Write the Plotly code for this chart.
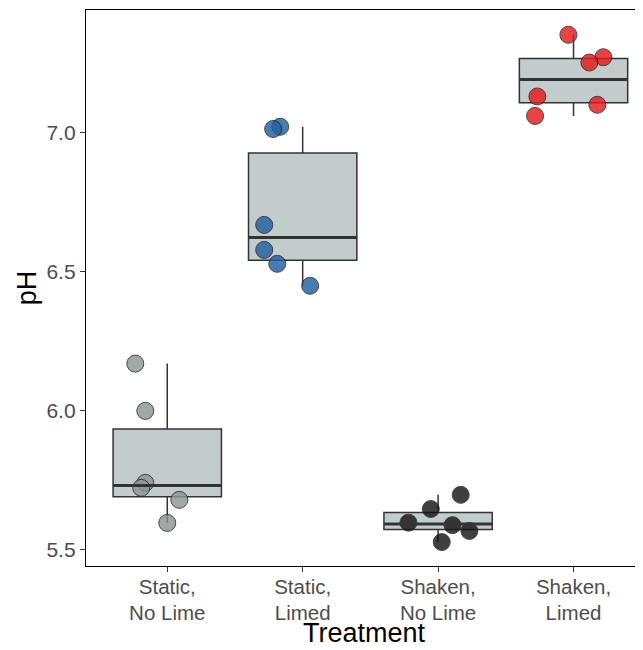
import numpy as np
import plotly.graph_objects as go

# ---- data ----
categories = ["Static,<br>No Lime", "Static,<br>Limed", "Shaken,<br>No Lime", "Shaken,<br>Limed"]
ph_static_nolime = [6.17, 6.00, 5.741, 5.723, 5.680, 5.597]
ph_static_limed = [7.022, 7.014, 6.669, 6.579, 6.529, 6.450]
ph_shaken_nolime = [5.698, 5.647, 5.598, 5.589, 5.568, 5.528]
ph_shaken_limed = [7.353, 7.272, 7.253, 7.131, 7.101, 7.061]
# horizontal jitter offsets (category units)
jit_static_nolime = [-0.236, -0.162, -0.162, -0.192, 0.089, 0.0]
jit_static_limed = [-0.166, -0.218, -0.284, -0.284, -0.188, 0.055]
jit_shaken_nolime = [0.167, -0.054, -0.219, 0.106, 0.231, 0.027]
jit_shaken_limed = [-0.038, 0.22, 0.117, -0.267, 0.176, -0.284]
point_colors = ["#8E9494", "#235FA0", "#151515", "#E41A1C"]
y_ticks = [5.5, 6.0, 6.5, 7.0]
x_title = "Treatment"
y_title = "pH"

groups = [ph_static_nolime, ph_static_limed, ph_shaken_nolime, ph_shaken_limed]
jitters = [jit_static_nolime, jit_static_limed, jit_shaken_nolime, jit_shaken_limed]
xpos = list(range(1, len(categories) + 1))

# ggplot-style box statistics
q1s, meds, q3s, lows, highs = [], [], [], [], []
for g in groups:
    a = np.array(g)
    q1, med, q3 = np.percentile(a, [25, 50, 75])
    iqr = q3 - q1
    lo = a[a >= q1 - 1.5 * iqr].min()
    hi = a[a <= q3 + 1.5 * iqr].max()
    q1s.append(q1); meds.append(med); q3s.append(q3); lows.append(lo); highs.append(hi)

fig = go.Figure()
fig.add_trace(go.Box(
    x=xpos, q1=q1s, median=meds, q3=q3s, lowerfence=lows, upperfence=highs,
    width=0.8, fillcolor="#C2CCCC", line=dict(color="#333333", width=1.5),
    boxpoints=False, whiskerwidth=0, hoverinfo="skip", showlegend=False,
))
# thicker median lines
for x, m in zip(xpos, meds):
    fig.add_shape(type="line", x0=x - 0.4, x1=x + 0.4, y0=m, y1=m,
                  xref="x", yref="y", line=dict(color="#333333", width=3))

for x, g, j, c in zip(xpos, groups, jitters, point_colors):
    fig.add_trace(go.Scatter(
        x=[x + d for d in j], y=g, mode="markers",
        marker=dict(size=17, color=c, opacity=0.82, line=dict(color="#222222", width=1)),
        showlegend=False, hoverinfo="skip",
    ))

# page body has an 8px default margin, so the figure is offset by it
fig.update_layout(
    width=635, height=642,
    margin=dict(l=78, r=0, t=2, b=84),
    paper_bgcolor="white", plot_bgcolor="white",
    font=dict(family="Liberation Sans, Arial, sans-serif", color="#4D4D4D"),
)
fig.update_xaxes(
    range=[0.4, 4.513], tickvals=xpos, ticktext=categories, automargin=False,
    showgrid=False, zeroline=False, showline=True, linecolor="black", linewidth=1.3,
    mirror=True, ticks="outside", ticklen=5, tickcolor="#333333", tickwidth=1,
    tickfont=dict(size=20.5, color="#4D4D4D"), ticklabelstandoff=-3,
)
fig.update_yaxes(
    range=[5.442, 7.442], tickvals=y_ticks, ticktext=[f"{v:.1f}" for v in y_ticks],
    automargin=False,
    showgrid=False, zeroline=False, showline=True, linecolor="black", linewidth=1.3,
    ticks="outside", ticklen=5, tickcolor="#333333", tickwidth=1,
    tickfont=dict(size=21, color="#4D4D4D"),
)
fig.add_annotation(text=x_title, xref="paper", yref="paper", x=0.5, y=-0.121,
                   xanchor="center", yanchor="middle", showarrow=False,
                   font=dict(size=27, color="black"))
fig.add_annotation(text=y_title, xref="paper", yref="paper", x=-0.1056, y=0.5,
                   xanchor="center", yanchor="middle", showarrow=False, textangle=-90,
                   font=dict(size=27, color="black"))

fig.write_html("out.html")
